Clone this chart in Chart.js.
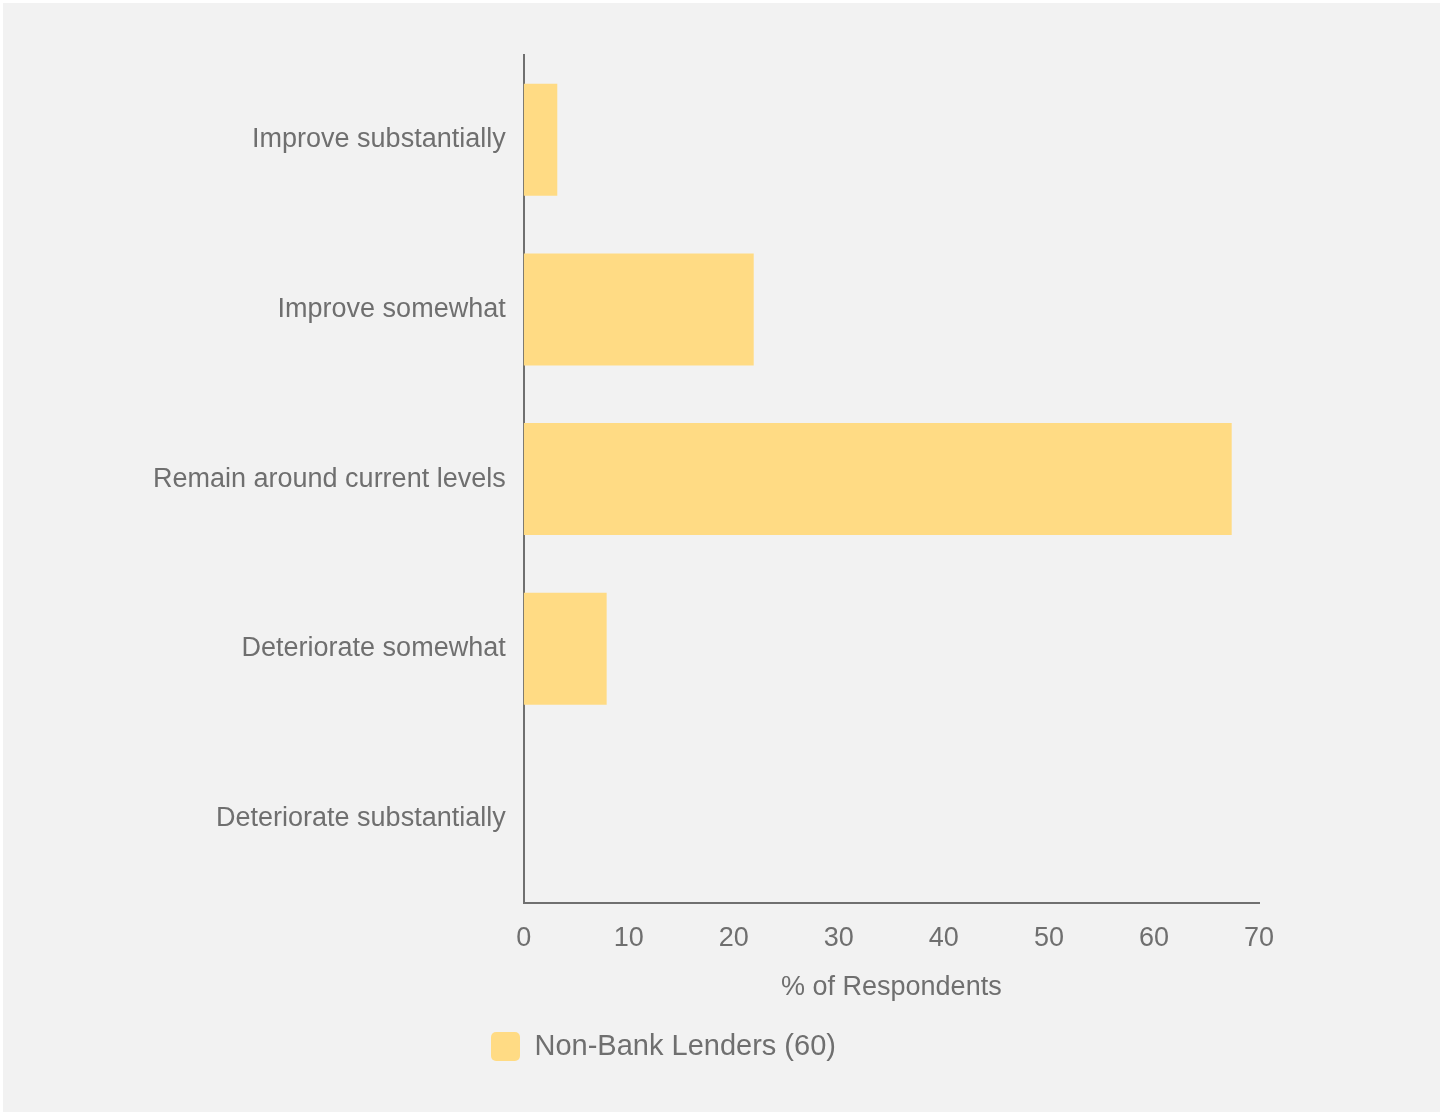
<!DOCTYPE html>
<html>
<head>
<meta charset="utf-8">
<script src="https://cdn.jsdelivr.net/npm/chart.js@4"></script>
<style>
  html, body { margin: 0; padding: 0; background: #ffffff; }
  #wrap { position: absolute; left: 3px; top: 3px; width: 1437px; height: 1109px; background: #f2f2f2; }
</style>
</head>
<body>
<div id="wrap"><canvas id="chartCanvas" width="1437" height="1109"></canvas></div>
<script>
const categories = ['Improve substantially', 'Improve somewhat', 'Remain around current levels', 'Deteriorate somewhat', 'Deteriorate substantially'];
const nonBankValues = [3.2, 21.9, 67.4, 7.9, 0];
const xTicks = [0, 10, 20, 30, 40, 50, 60, 70];
const seriesLabel = 'Non-Bank Lenders (60)';

const textColor = '#6f6f6f';
const font = { family: '"Liberation Sans", Arial, sans-serif', size: 27 };

// move the legend to sit under the labels, like the original
const legendShift = {
  id: 'legendShift',
  beforeDraw(chart) {
    const lg = chart.legend;
    const w = lg.right - lg.left;
    lg.left = 478;
    lg.right = lg.left + w;
  }
};

const ctx = document.getElementById('chartCanvas').getContext('2d');
new Chart(ctx, {
  type: 'bar',
  data: {
    labels: categories,
    datasets: [{
      label: seriesLabel,
      data: nonBankValues,
      backgroundColor: '#ffdb84',
      borderWidth: 0,
      barPercentage: 0.66,
      categoryPercentage: 1
    }]
  },
  options: {
    indexAxis: 'y',
    responsive: false,
    animation: false,
    layout: { padding: { top: 52, left: 132, right: 181, bottom: 41 } },
    plugins: {
      legend: {
        position: 'bottom',
        align: 'start',
        labels: {
          color: textColor,
          font: { family: font.family, size: 29 },
          boxWidth: 29,
          boxHeight: 29,
          useBorderRadius: true,
          borderRadius: 5,
          padding: 10
        }
      },
      tooltip: { enabled: false }
    },
    scales: {
      x: {
        min: 0,
        max: 70,
        afterBuildTicks(axis) { axis.ticks = xTicks.map(v => ({ value: v })); },
        grid: { display: false, drawTicks: false },
        border: { display: true, color: '#707070', width: 2 },
        ticks: { color: textColor, font: font, padding: 19, maxRotation: 0 },
        title: { display: true, text: '% of Respondents', color: textColor, font: font, padding: { top: -2, bottom: 18 } }
      },
      y: {
        grid: { display: false, drawTicks: false },
        border: { display: true, color: '#707070', width: 2 },
        ticks: { color: textColor, font: font, padding: 18 }
      }
    }
  },
  plugins: [legendShift]
});
</script>
</body>
</html>
